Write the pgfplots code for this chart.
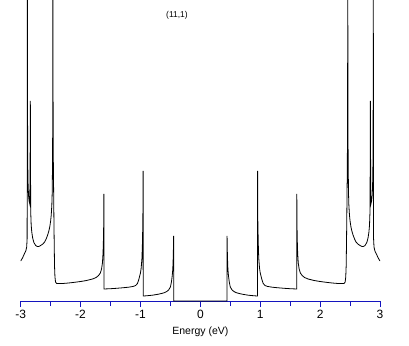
\documentclass[border=0pt]{standalone}
\usepackage{pgfplots}
\pgfplotsset{compat=1.18}
\usepackage{fontspec}
\setmainfont{Liberation Sans}
\definecolor{axblue}{RGB}{20,20,190}
\pgfplotstableread{
E D
-3.000 40
-2.970 43
-2.940 47
-2.915 50
-2.900 54
-2.893 62
-2.890 150
-2.888 360
-2.886 200
-2.883 140
-2.877 118
-2.870 106
-2.860 100
-2.848 97
-2.842 150
-2.839 200
-2.836 130
-2.832 88
-2.825 76
-2.815 69
-2.800 63
-2.780 58.5
-2.750 55.5
-2.722 54.5
-2.700 54.5
-2.667 55.5
-2.630 57
-2.600 59
-2.575 62
-2.550 66
-2.530 70
-2.515 74
-2.500 80
-2.490 86
-2.480 96
-2.474 108
-2.468 140
-2.464 200
-2.462 360
-2.459 200
-2.455 140
-2.450 110
-2.445 80
-2.440 55
-2.435 35
-2.428 24
-2.418 19
-2.400 17.5
-2.300 17.5
-2.200 18
-2.100 18.7
-2.000 19.5
-1.900 20.5
-1.800 22
-1.740 23.5
-1.700 25.5
-1.670 28
-1.650 32
-1.635 38
-1.625 48
-1.618 62
-1.613 80
-1.611 107
-1.610 12
-1.500 12.3
-1.400 12.7
-1.300 13.2
-1.200 13.8
-1.120 14.6
-1.080 15.5
-1.050 17.5
-1.030 21
-1.000 28
-0.988 33
-0.975 43
-0.967 58
-0.960 80
-0.956 130
-0.955 5
-0.900 5.2
-0.800 5.8
-0.700 6.8
-0.650 7.5
-0.600 8.3
-0.560 9.5
-0.530 11
-0.500 14
-0.483 19
-0.470 25
-0.460 32
-0.452 45
-0.446 65
-0.445 0
0.445 0
0.446 65
0.452 45
0.460 32
0.470 25
0.483 19
0.500 14
0.530 11
0.560 9.5
0.600 8.3
0.650 7.5
0.700 6.8
0.800 5.8
0.900 5.2
0.955 5
0.956 130
0.960 80
0.967 58
0.975 43
0.988 33
1.000 28
1.030 21
1.050 17.5
1.080 15.5
1.120 14.6
1.200 13.8
1.300 13.2
1.400 12.7
1.500 12.3
1.610 12
1.611 107
1.613 80
1.618 62
1.625 48
1.635 38
1.650 32
1.670 28
1.700 25.5
1.740 23.5
1.800 22
1.900 20.5
2.000 19.5
2.100 18.7
2.200 18
2.300 17.5
2.400 17.5
2.418 19
2.428 24
2.435 35
2.440 55
2.445 80
2.450 110
2.455 140
2.459 200
2.462 360
2.464 200
2.468 140
2.474 108
2.480 96
2.490 86
2.500 80
2.515 74
2.530 70
2.550 66
2.575 62
2.600 59
2.630 57
2.667 55.5
2.700 54.5
2.722 54.5
2.750 55.5
2.780 58.5
2.800 63
2.815 69
2.825 76
2.832 88
2.836 130
2.839 200
2.842 150
2.848 97
2.860 100
2.870 106
2.877 118
2.883 140
2.886 200
2.888 360
2.890 150
2.893 62
2.900 54
2.915 50
2.940 47
2.970 43
3.000 40
}\dos
\begin{document}
\begin{tikzpicture}
\useasboundingbox (-20.7pt,-44pt) rectangle (388.3pt,301pt);
\begin{axis}[
  at={(0pt,0pt)}, anchor=south west,
  scale only axis, width=359.3pt, height=301pt,
  xmin=-3, xmax=3, ymin=0, ymax=301,
  axis x line*=bottom, axis y line=none,
  x axis line style={axblue, line width=0.8pt},
  xtick={-3,-2,-1,0,1,2,3},
  xticklabels={-3,-2,-1,0,1,2,3},
  minor xtick={-2.5,-1.5,-0.5,0.5,1.5,2.5},
  tick align=outside,
  major tick length=6pt, minor tick length=5pt,
  every tick/.style={axblue, line width=0.8pt},
  minor tick style={axblue, line width=0.8pt},
  major tick style={axblue, line width=0.8pt},
  xticklabel style={font=\fontsize{12}{13}\selectfont, black},
  xlabel={Energy (eV)},
  xlabel style={font=\fontsize{10.5}{12}\selectfont, at={(axis description cs:0.5,0)}, anchor=center, yshift=-31pt},
]
\addplot[black, line width=0.8pt, sharp plot] table[x=E, y=D] {\dos};
\node[font=\fontsize{8.5}{9}\selectfont] at (axis cs:-0.39,286) {(11,1)};
\end{axis}
\end{tikzpicture}
\end{document}
